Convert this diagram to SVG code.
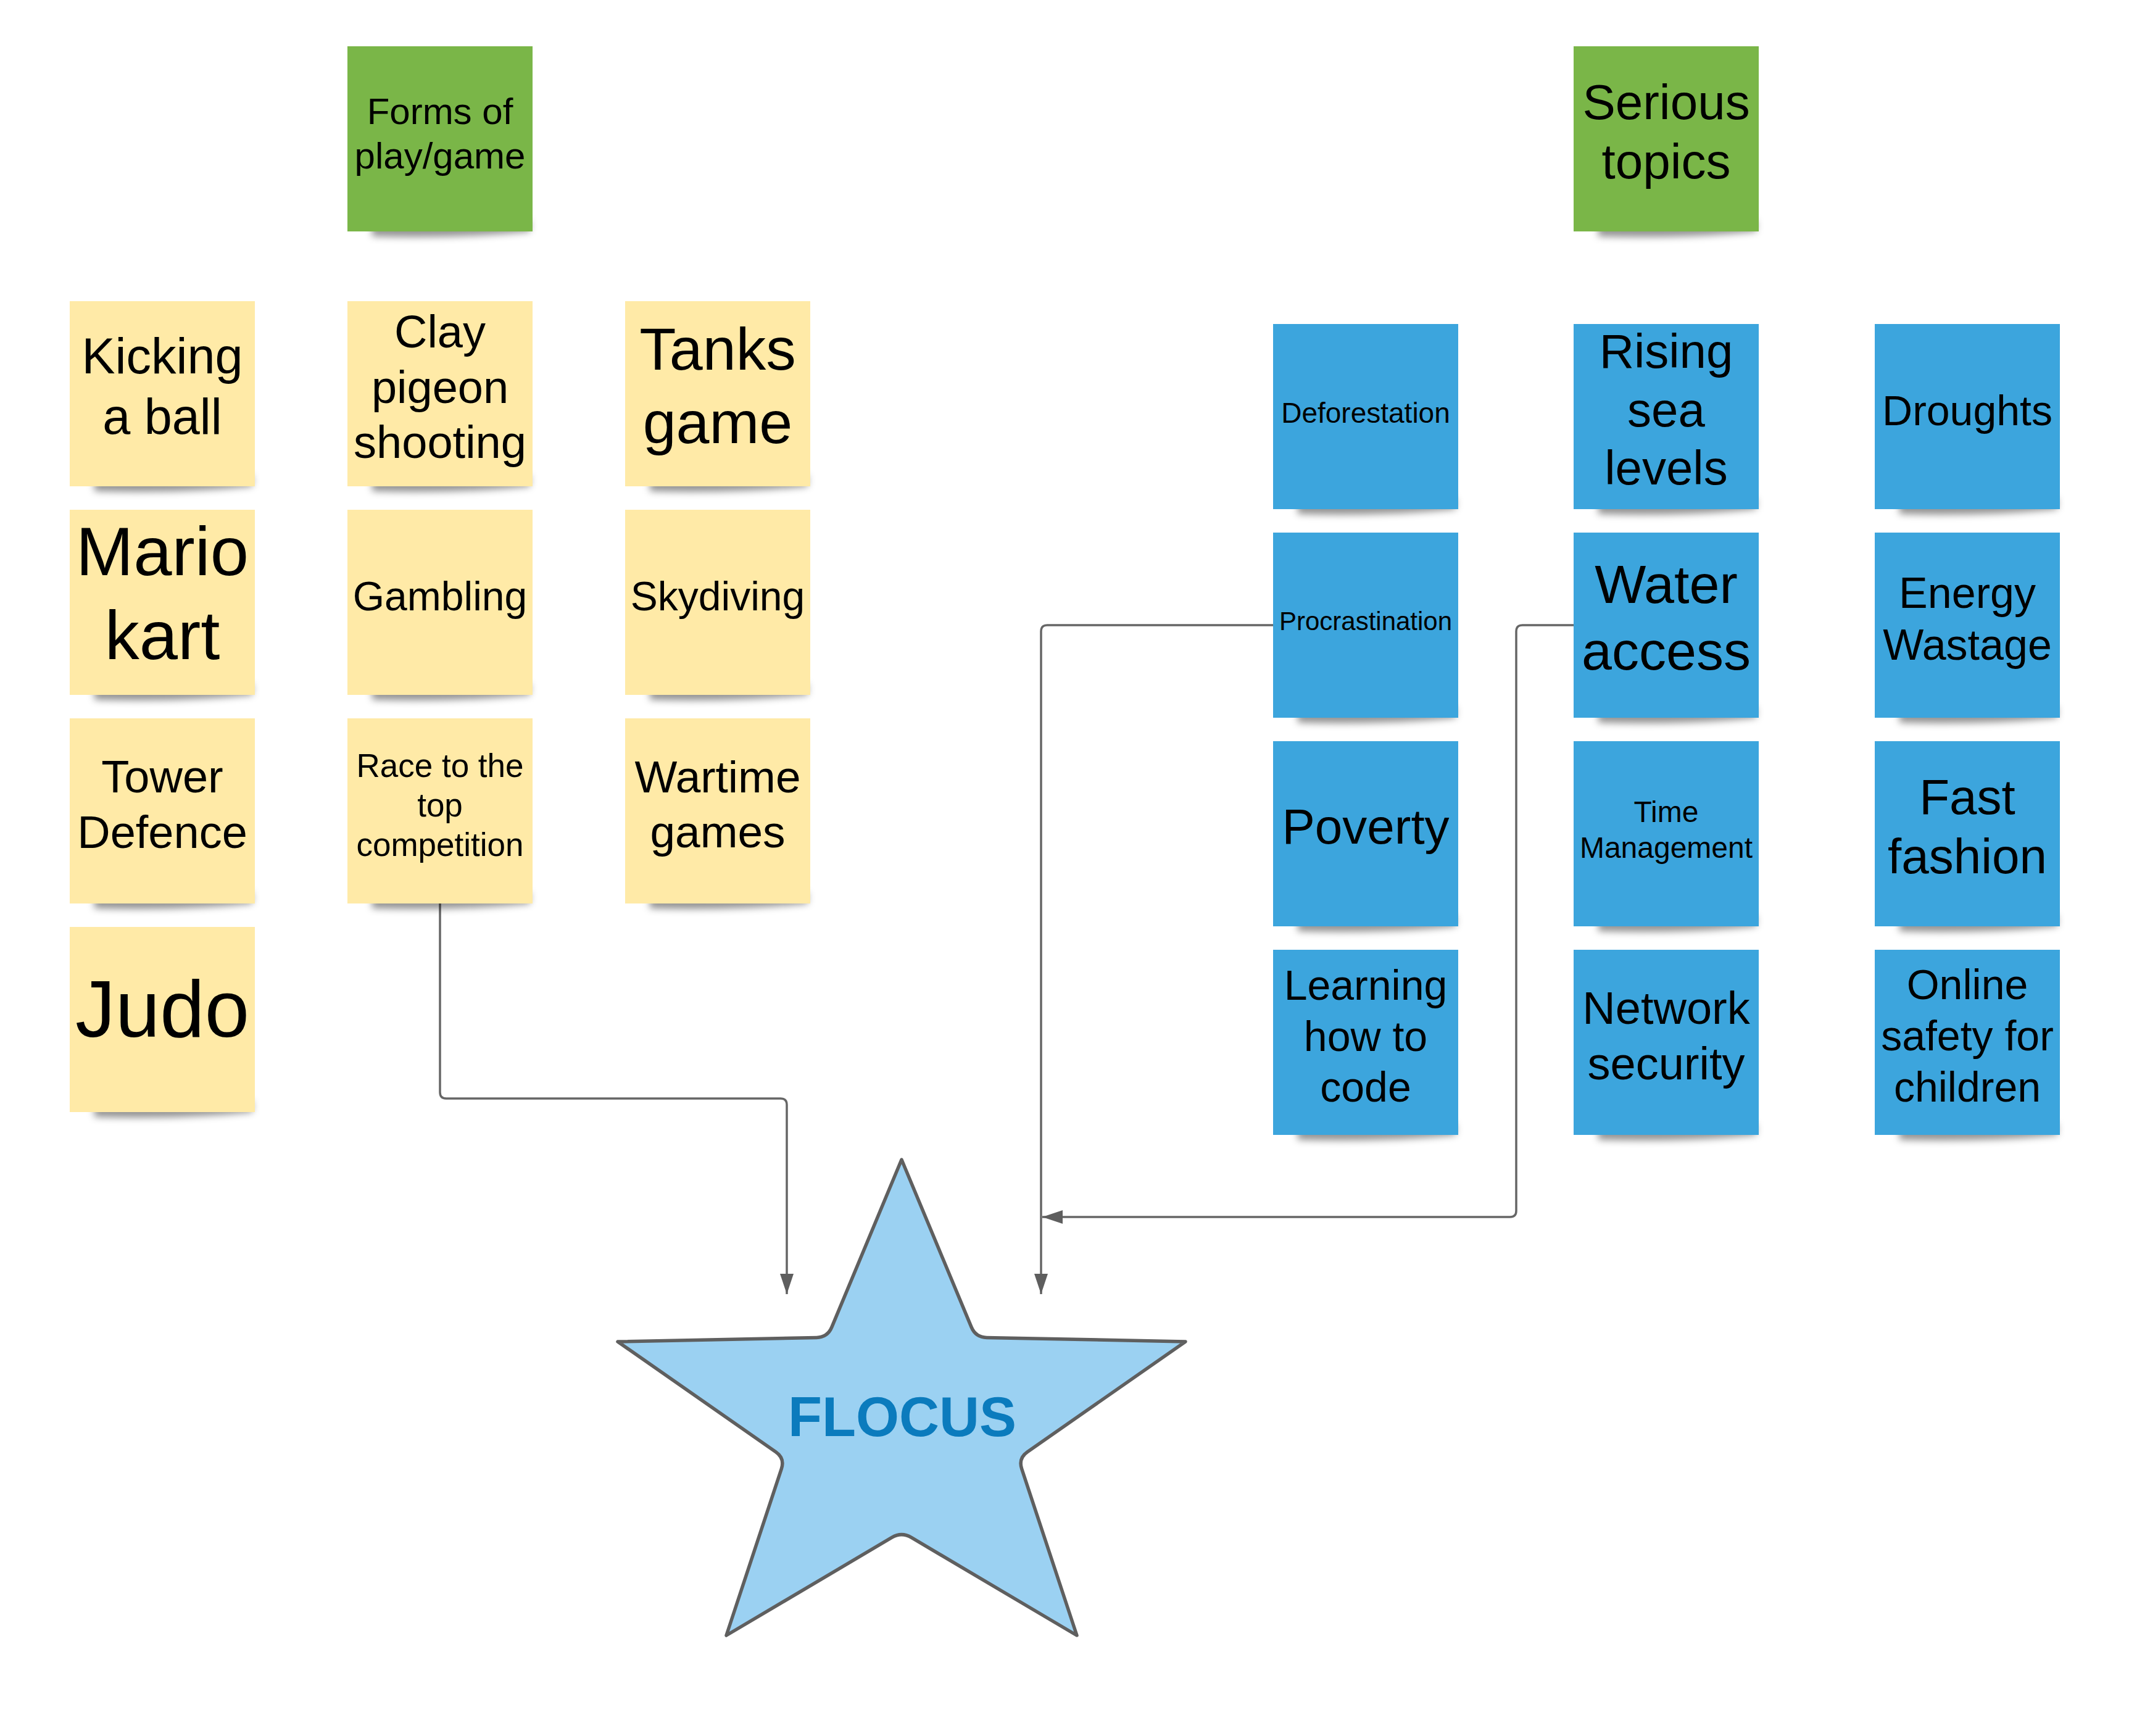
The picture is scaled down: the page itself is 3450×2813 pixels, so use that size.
<svg xmlns="http://www.w3.org/2000/svg" xmlns:xlink="http://www.w3.org/1999/xlink" width="3450" height="2813" viewBox="0 0 3450 2813">
<defs>
<filter id="blur" x="-20%" y="-100%" width="140%" height="300%"><feGaussianBlur stdDeviation="6"/></filter>
<path id="sh" d="M40,282 H296 V300 Q180,312 40,308 Z" fill="#000" fill-opacity="0.42" filter="url(#blur)"/>
<marker id="arr" markerUnits="userSpaceOnUse" markerWidth="34" markerHeight="24" refX="33" refY="11" orient="auto"><path d="M0,0 L33,11 L0,22 Z" fill="#5e5e5e"/></marker>
<style>
.y{fill:#ffeaa7}.g{fill:#7ab648}.b{fill:#3ca5dd}
text{font-family:"Liberation Sans",Arial,sans-serif;fill:#000;text-anchor:middle}
.c{fill:none;stroke:#666;stroke-width:3.5}
</style>
</defs>
<rect width="3450" height="2813" fill="#fff"/>

<g id="connectors">
<path class="c" d="M713,1464 V1770 Q713,1780 723,1780 H1265 Q1275,1780 1275,1790 V2097" marker-end="url(#arr)"/>
<path class="c" d="M2063,1013 H1697 Q1687,1013 1687,1023 V2097" marker-end="url(#arr)"/>
<path class="c" d="M2550,1013 H2467 Q2457,1013 2457,1023 V1962 Q2457,1972 2447,1972 H1689" marker-end="url(#arr)"/>
</g>

<g id="n-forms"><use xlink:href="#sh" x="563" y="75"/><rect class="g" x="563" y="75" width="300" height="300"/><text font-size="60"><tspan x="713" y="200.7">Forms of</tspan><tspan x="713" y="273.3">play/game</tspan></text></g>
<g id="n-serious"><use xlink:href="#sh" x="2550" y="75"/><rect class="g" x="2550" y="75" width="300" height="300"/><text font-size="80"><tspan x="2700" y="192.6">Serious</tspan><tspan x="2700" y="289.4">topics</tspan></text></g>

<g id="n-kicking"><use xlink:href="#sh" x="113" y="488"/><rect class="y" x="113" y="488" width="300" height="300"/><text font-size="81"><tspan x="263" y="605">Kicking</tspan><tspan x="263" y="703">a ball</tspan></text></g>
<g id="n-clay"><use xlink:href="#sh" x="563" y="488"/><rect class="y" x="563" y="488" width="300" height="300"/><text font-size="74"><tspan x="713" y="563.3">Clay</tspan><tspan x="713" y="652.8">pigeon</tspan><tspan x="713" y="742.3">shooting</tspan></text></g>
<g id="n-tanks"><use xlink:href="#sh" x="1013" y="488"/><rect class="y" x="1013" y="488" width="300" height="300"/><text font-size="97"><tspan x="1163" y="598.7">Tanks</tspan><tspan x="1163" y="718">game</tspan></text></g>
<g id="n-mario"><use xlink:href="#sh" x="113" y="826"/><rect class="y" x="113" y="826" width="300" height="300"/><text font-size="112"><tspan x="263" y="932">Mario</tspan><tspan x="263" y="1068">kart</tspan></text></g>
<g id="n-gambling"><use xlink:href="#sh" x="563" y="826"/><rect class="y" x="563" y="826" width="300" height="300"/><text font-size="66" x="713" y="989">Gambling</text></g>
<g id="n-skydiving"><use xlink:href="#sh" x="1013" y="826"/><rect class="y" x="1013" y="826" width="300" height="300"/><text font-size="66" x="1163" y="989">Skydiving</text></g>
<g id="n-tower"><use xlink:href="#sh" x="113" y="1164"/><rect class="y" x="113" y="1164" width="300" height="300"/><text font-size="74"><tspan x="263" y="1284">Tower</tspan><tspan x="263" y="1373.5">Defence</tspan></text></g>
<g id="n-race"><use xlink:href="#sh" x="563" y="1164"/><rect class="y" x="563" y="1164" width="300" height="300"/><text font-size="53"><tspan x="713" y="1259">Race to the</tspan><tspan x="713" y="1323">top</tspan><tspan x="713" y="1387">competition</tspan></text></g>
<g id="n-wartime"><use xlink:href="#sh" x="1013" y="1164"/><rect class="y" x="1013" y="1164" width="300" height="300"/><text font-size="73"><tspan x="1163" y="1284.4">Wartime</tspan><tspan x="1163" y="1372.7">games</tspan></text></g>
<g id="n-judo"><use xlink:href="#sh" x="113" y="1502"/><rect class="y" x="113" y="1502" width="300" height="300"/><text font-size="130" x="263" y="1680">Judo</text></g>

<g id="n-deforestation"><use xlink:href="#sh" x="2063" y="525"/><rect class="b" x="2063" y="525" width="300" height="300"/><text font-size="46" x="2213" y="684.5">Deforestation</text></g>
<g id="n-rising"><use xlink:href="#sh" x="2550" y="525"/><rect class="b" x="2550" y="525" width="300" height="300"/><text font-size="78"><tspan x="2700" y="596.2">Rising</tspan><tspan x="2700" y="690.6">sea</tspan><tspan x="2700" y="785">levels</tspan></text></g>
<g id="n-droughts"><use xlink:href="#sh" x="3038" y="525"/><rect class="b" x="3038" y="525" width="300" height="300"/><text font-size="68" x="3188" y="688.6">Droughts</text></g>
<g id="n-procrastination"><use xlink:href="#sh" x="2063" y="863"/><rect class="b" x="2063" y="863" width="300" height="300"/><text font-size="42" x="2213" y="1021.4">Procrastination</text></g>
<g id="n-water"><use xlink:href="#sh" x="2550" y="863"/><rect class="b" x="2550" y="863" width="300" height="300"/><text font-size="88"><tspan x="2700" y="977">Water</tspan><tspan x="2700" y="1085">access</tspan></text></g>
<g id="n-energy"><use xlink:href="#sh" x="3038" y="863"/><rect class="b" x="3038" y="863" width="300" height="300"/><text font-size="70"><tspan x="3188" y="984.7">Energy</tspan><tspan x="3188" y="1069.4">Wastage</tspan></text></g>
<g id="n-poverty"><use xlink:href="#sh" x="2063" y="1201"/><rect class="b" x="2063" y="1201" width="300" height="300"/><text font-size="80" x="2213" y="1367">Poverty</text></g>
<g id="n-time"><use xlink:href="#sh" x="2550" y="1201"/><rect class="b" x="2550" y="1201" width="300" height="300"/><text font-size="48"><tspan x="2700" y="1331.6">Time</tspan><tspan x="2700" y="1389.7">Management</tspan></text></g>
<g id="n-fast"><use xlink:href="#sh" x="3038" y="1201"/><rect class="b" x="3038" y="1201" width="300" height="300"/><text font-size="80"><tspan x="3188" y="1318.6">Fast</tspan><tspan x="3188" y="1415.4">fashion</tspan></text></g>
<g id="n-learning"><use xlink:href="#sh" x="2063" y="1539"/><rect class="b" x="2063" y="1539" width="300" height="300"/><text font-size="68"><tspan x="2213" y="1620.3">Learning</tspan><tspan x="2213" y="1702.6">how to</tspan><tspan x="2213" y="1784.9">code</tspan></text></g>
<g id="n-network"><use xlink:href="#sh" x="2550" y="1539"/><rect class="b" x="2550" y="1539" width="300" height="300"/><text font-size="74"><tspan x="2700" y="1659">Network</tspan><tspan x="2700" y="1748.6">security</tspan></text></g>
<g id="n-online"><use xlink:href="#sh" x="3038" y="1539"/><rect class="b" x="3038" y="1539" width="300" height="300"/><text font-size="68"><tspan x="3188" y="1619">Online</tspan><tspan x="3188" y="1702">safety for</tspan><tspan x="3188" y="1785">children</tspan></text></g>

<g id="n-flocus">
<path d="M1461,1879 L1574.1,2150.4 Q1581,2167 1599,2167.4 L1921,2174 L1664.8,2352.7 Q1650,2363 1655.7,2380.1 L1745,2650 L1476.5,2491.2 Q1461,2482 1445.5,2491.2 L1177,2650 L1266.3,2380.1 Q1272,2363 1257.2,2352.7 L1001,2174 L1323,2167.4 Q1341,2167 1347.9,2150.4 Z" fill="#9bd1f2" stroke="#5f5f5f" stroke-width="5.5" stroke-linejoin="round"/>
<text x="1462" y="2327" font-size="90" font-weight="bold" style="fill:#0b7bbd">FLOCUS</text>
</g>
</svg>
